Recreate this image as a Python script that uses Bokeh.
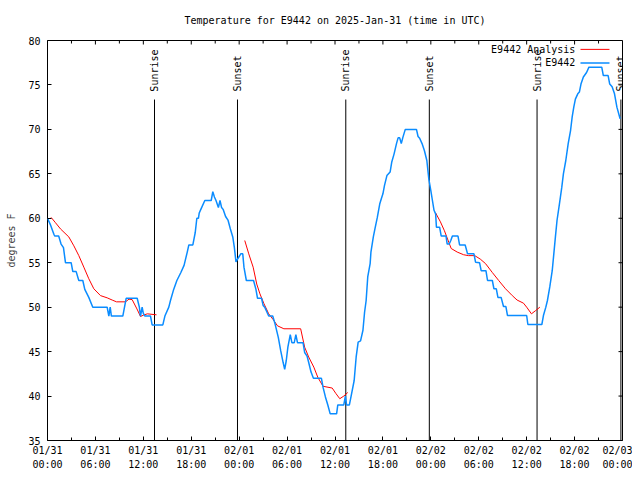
import math
from bokeh.plotting import figure
from bokeh.models import FixedTicker, LinearAxis, Range1d, LabelSet, ColumnDataSource, Label
from bokeh.core.properties import value
from bokeh.embed import file_html
from bokeh.resources import INLINE

# ---------------- data ----------------
# hours since 2025-01-31 00:00 UTC
obs_hours = [0.0, 0.4, 0.8, 0.9, 1.4, 1.7, 2.0, 2.25, 2.96, 3.17, 3.59, 3.92, 4.42, 4.67, 5.17, 5.67,
             7.47, 7.68, 7.85, 8.0, 9.43, 9.85, 11.23, 11.5, 11.65, 11.85, 12.0, 12.2, 12.9, 13.1,
             14.44, 14.7, 15.19, 15.4, 15.8, 16.2, 16.7, 17.1, 17.5, 17.7, 18.2, 18.5, 18.7, 18.9,
             19.0, 19.2, 19.7, 20.5, 20.7, 20.9, 21.1, 21.4, 21.6, 21.8, 22.0, 22.3, 22.6, 22.9,
             23.2, 23.4, 23.6, 23.8, 24.0, 24.2, 24.45, 24.6, 24.9, 25.8, 26.1, 26.3, 26.8, 27.0,
             27.2, 27.7, 28.2, 28.5, 28.9, 29.2, 29.5, 29.7, 29.9, 30.1, 30.4, 30.6, 30.9, 31.1,
             31.3, 32.0, 32.2, 32.5, 32.7, 33.0, 33.3, 34.3, 34.5, 34.8, 35.1, 35.4, 36.2, 36.35,
             37.1, 37.3, 37.45, 37.8, 38.0, 38.4, 38.65, 38.9, 39.2, 39.5, 39.7, 39.9, 40.1, 40.4,
             40.5, 40.8, 41.0, 41.3, 41.6, 41.8, 42.0, 42.2, 42.5, 42.9, 43.1, 43.4, 43.7, 43.9,
             44.1, 44.3, 44.5, 44.8, 46.2, 46.4, 46.6, 46.9, 47.2, 47.5, 47.75, 48.0, 48.2, 48.4,
             48.6, 48.7, 49.1, 49.3, 49.9, 50.05, 50.3, 50.5, 50.7, 51.4, 51.6, 52.3, 52.6, 53.4,
             53.6, 54.1, 54.3, 54.9, 55.1, 55.7, 55.9, 56.2, 56.4, 56.8, 57.1, 57.4, 57.6, 60.0,
             60.15, 61.9, 62.1, 62.4, 62.6, 62.9, 63.2, 63.4, 63.6, 63.8, 64.1, 64.4, 64.6, 64.9,
             65.2, 65.5, 65.7, 65.9, 66.1, 66.4, 66.6, 66.8, 67.1, 67.5, 67.8, 69.4, 69.6, 70.2,
             70.4, 70.7, 71.0, 71.3, 71.7]
obs_temp = [60.0, 59.2, 58.2, 58.0, 58.0, 57.1, 56.7, 55.0, 55.0, 54.0, 54.0, 53.0, 53.0, 52.0, 51.1, 50.0,
            50.0, 49.0, 50.0, 49.0, 49.0, 51.0, 51.0, 50.0, 49.0, 50.0, 49.3, 49.0, 49.0, 48.0,
            48.0, 49.0, 50.0, 50.75, 52.0, 53.0, 53.9, 54.7, 56.2, 57.0, 57.0, 58.4, 60.0, 60.0,
            60.6, 61.0, 62.0, 62.0, 63.0, 62.4, 62.0, 61.2, 62.0, 61.2, 61.0, 60.2, 59.8, 58.8,
            57.9, 56.7, 55.1, 55.4, 55.7, 56.0, 56.0, 54.5, 53.0, 53.0, 52.0, 51.0, 51.0, 50.2,
            50.0, 49.0, 49.0, 48.1, 46.6, 45.1, 43.8, 43.0, 44.0, 45.5, 46.9, 46.0, 46.0, 46.9,
            46.0, 46.0, 44.9, 44.5, 43.8, 42.7, 42.0, 42.0, 41.0, 39.9, 39.0, 38.0, 38.0, 39.0,
            39.0, 40.0, 39.0, 39.0, 39.9, 41.75, 44.4, 46.06, 46.2, 47.4, 49.4, 50.75, 53.4, 54.9,
            56.2, 57.9, 58.8, 60.1, 61.6, 62.2, 62.75, 63.7, 64.8, 65.2, 66.3, 67.25, 68.4, 69.05,
            69.05, 68.4, 69.1, 70.0, 70.0, 69.2, 69.0, 68.4, 67.6, 66.5, 64.4, 63.1, 62.0, 60.9,
            60.5, 59.0, 59.0, 58.0, 58.0, 57.1, 57.1, 57.5, 58.0, 58.0, 57.0, 57.0, 56.0, 56.0,
            55.06, 55.0, 54.1, 54.1, 53.0, 53.0, 52.07, 52.07, 51.1, 51.1, 50.07, 50.07, 49.06, 49.06,
            48.05, 48.05, 49.06, 50.0, 50.75, 52.3, 54.1, 56.0, 57.9, 59.75, 61.6, 63.5, 65.0, 66.5,
            68.4, 69.9, 71.4, 72.5, 73.4, 74.0, 74.2, 75.1, 75.9, 76.4, 77.0, 77.0, 76.06, 76.06,
            75.1, 74.8, 74.0, 72.5, 71.2]

nan = float("nan")
ana_hours = [0.45, 1.0, 1.63, 2.67, 3.3, 3.92, 4.55, 5.17, 5.8, 6.64, 7.47, 8.1, 8.64, 9.77, 10.2, 10.6,
             11.2, 11.65, 12.0, 12.5, 13.65, nan,
             24.7, 25.2, 25.75, 26.2, 26.6, 27.1, 27.7, 28.26, 28.8, 29.6, 31.7, 32.2, 32.7, 33.35,
             33.85, 34.5, 35.65, 36.1, 36.6, 37.1, 37.6, nan,
             48.6, 49.2, 49.7, 50.25, 50.55, 51.3, 52.1, 52.7, 53.5, 54.2, 54.85, 55.7, 56.5, 57.35,
             58.2, 58.8, 59.6, 60.0, 60.6, 61.1, 61.65]
ana_temp = [60.1, 59.5, 58.8, 57.9, 56.9, 55.8, 54.5, 53.2, 52.07, 51.3, 51.05, 50.8, 50.6, 50.6, 50.9, 50.85,
            49.8, 48.95, 49.1, 49.25, 49.14, nan,
            57.5, 56.0, 54.5, 52.6, 51.5, 50.4, 49.25, 48.6, 47.9, 47.57, 47.57, 45.5, 44.4, 43.25,
            42.1, 41.1, 40.9, 40.3, 39.7, 40.0, 40.4, nan,
            60.6, 59.6, 58.6, 57.3, 56.6, 56.2, 55.9, 55.8, 55.8, 55.4, 54.9, 53.9, 53.0, 52.07,
            51.3, 50.8, 50.45, 50.0, 49.25, 49.6, 50.0]

sun_hours = [13.40, 23.79, 37.35, 47.81, 61.30, 71.80]
sun_names = ["Sunrise", "Sunset", "Sunrise", "Sunset", "Sunrise", "Sunset"]

x_ticks = [0, 6, 12, 18, 24, 30, 36, 42, 48, 54, 60, 66, 72]
x_labels = ["01/31\n00:00", "01/31\n06:00", "01/31\n12:00", "01/31\n18:00",
            "02/01\n00:00", "02/01\n06:00", "02/01\n12:00", "02/01\n18:00",
            "02/02\n00:00", "02/02\n06:00", "02/02\n12:00", "02/02\n18:00",
            "02/03\n00:00"]
x_minor = [3, 9, 15, 21, 27, 33, 39, 45, 51, 57, 63, 69]
y_ticks = [35, 40, 45, 50, 55, 60, 65, 70, 75, 80]

title = "Temperature for E9442 on 2025-Jan-31 (time in UTC)"
series_names = ["E9442 Analysis", "E9442"]
RED = "#ff0000"
BLUE = "#0a8cff"
FONT = "DejaVu Sans Mono"
FS = "10px"

X0, X1, Y0, Y1 = 0, 72, 35, 80

p = figure(width=632, height=472, x_range=Range1d(X0, X1), y_range=Range1d(Y0, Y1),
           output_backend="svg", toolbar_location=None, x_axis_type=None, y_axis_type=None,
           min_border_left=47, min_border_right=10, min_border_top=40, min_border_bottom=32)
p.outline_line_color = "black"
p.outline_line_width = 1
p.background_fill_color = "white"
p.border_fill_color = "white"


def mk_axis(ticker, **kw):
    return LinearAxis(ticker=ticker, axis_line_color=None,
                      major_tick_in=4, major_tick_out=0, minor_tick_in=3, minor_tick_out=0,
                      major_tick_line_color="black", minor_tick_line_color="black",
                      major_label_text_font=FONT, major_label_text_color="black",
                      major_label_text_font_size=FS, **kw)

# title carried by a tick-less axis above the frame
top = LinearAxis(ticker=FixedTicker(ticks=[]), axis_line_color=None, major_tick_in=0, major_tick_out=0,
                 minor_tick_in=0, minor_tick_out=0, major_label_standoff=0,
                 axis_label=title, axis_label_text_font=FONT, axis_label_text_font_size=FS,
                 axis_label_text_font_style="normal", axis_label_text_color="black",
                 axis_label_standoff=15)
p.add_layout(top, "above")

yl = mk_axis(FixedTicker(ticks=y_ticks), major_label_standoff=7,
             axis_label="degrees F", axis_label_text_font=FONT, axis_label_text_font_size=FS,
             axis_label_text_font_style="normal", axis_label_standoff=8)
p.add_layout(yl, "left")

xb = mk_axis(FixedTicker(ticks=x_ticks, minor_ticks=x_minor), major_label_standoff=4,
             major_label_overrides=dict(zip(x_ticks, x_labels)),
             major_label_text_line_height=1.3)
p.add_layout(xb, "below")

# mirrored ticks on the right and top borders (screen-length rays pointing inward)
p.ray(x=[X1] * len(y_ticks), y=y_ticks, length=4, length_units="screen", angle=math.pi,
      line_color="black", line_width=1)
p.ray(x=x_ticks, y=[Y1] * len(x_ticks), length=4, length_units="screen", angle=-math.pi / 2,
      line_color="black", line_width=1)
p.ray(x=x_minor, y=[Y1] * len(x_minor), length=3, length_units="screen", angle=-math.pi / 2,
      line_color="black", line_width=1)

# sunrise / sunset markers
line_top = 73.36
text_bottom = 74.25
p.segment(x0=sun_hours, y0=[Y0] * len(sun_hours), x1=sun_hours, y1=[line_top] * len(sun_hours),
          line_color="black", line_width=1)
sun_src = ColumnDataSource(dict(x=sun_hours, y=[text_bottom] * len(sun_hours), name=sun_names))
p.add_layout(LabelSet(x="x", y="y", text="name", source=sun_src, angle=90, angle_units="deg",
                      text_align="left", text_baseline="middle", text_font=value(FONT),
                      text_font_size=value(FS), text_color="black"))

# series
p.line(ana_hours, ana_temp, line_color=RED, line_width=1)
p.line(obs_hours, obs_temp, line_color=BLUE, line_width=1.5)

# key (top right, text right-aligned with sample line to its right)
key_text_x = 66.1
key_line = (66.74, 70.37)
key_rows = [79.0, 77.47]
for name, col, yy in zip(series_names, [RED, BLUE], key_rows):
    p.add_layout(Label(x=key_text_x, y=yy, text=name, text_align="right", text_baseline="middle",
                       text_font=FONT, text_font_size=FS, text_color="black"))
    p.line([key_line[0], key_line[1]], [yy, yy], line_color=col, line_width=1 if col == RED else 1.5)

open("out.html", "w").write(file_html(p, INLINE))
